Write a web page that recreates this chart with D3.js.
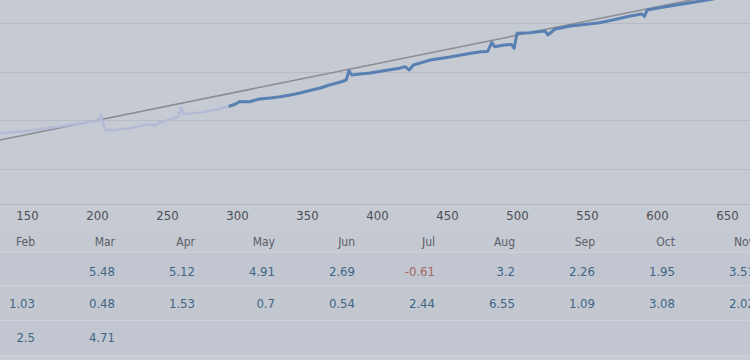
<!DOCTYPE html>
<html><head><meta charset="utf-8">
<script src="https://cdn.jsdelivr.net/npm/d3@7"></script>
<style>
html,body{margin:0;padding:0;background:#c6cad2;}
svg{display:block;}
</style></head>
<body><svg id="c" width="750" height="360"></svg>
<script>
// ---- data ----
const xTicks = [150, 200, 250, 300, 350, 400, 450, 500, 550, 600, 650];
const yGrid = [1000, 2000, 3000, 4000];
const lightT = [120,131,149,166,181,191,202,203,204,206,213,224,238,241,244,252,258,260,262,274,284,294];
const lightV = [1705,1734,1781,1843,1905,1946,1997,2110,1966,1802,1802,1843,1925,1884,1946,2018,2069,2254,2131,2162,2213,2285];
const darkT = [294,299,302,309,316,324,331,338,345,352,359,366,374,378,380,382,388,395,406,416,420,423,426,438,452,466,474,479,482,484,491,496,498,500,509,520,522,527,538,545,559,570,581,589,591,593,605,616,627,638,652,667];
const darkV = [2285,2336,2388,2383,2439,2459,2486,2521,2562,2614,2659,2727,2788,2829,3020,2932,2953,2973,3024,3070,3103,3035,3137,3240,3302,3374,3411,3415,3596,3514,3548,3559,3481,3789,3801,3836,3754,3871,3939,3959,4007,4072,4144,4185,4134,4268,4329,4381,4432,4483,4555,4637];
const trendT = [100, 700];
const trendV = [1417, 4914];
const months = ["Feb","Mar","Apr","May","Jun","Jul","Aug","Sep","Oct","Nov"];
const row1 = [null, 5.48, 5.12, 4.91, 2.69, -0.61, 3.2, 2.26, 1.95, 3.51];
const row2 = [1.03, 0.48, 1.53, 0.7, 0.54, 2.44, 6.55, 1.09, 3.08, 2.02];
const row3 = [2.5, 4.71, null, null, null, null, null, null, null, null];
const rows = [row1, row2, row3];

// ---- layout ----
const W = 750, plotBottom = 204;
const svg = d3.select("#c");
const font = "'DejaVu Sans Condensed','DejaVu Sans',sans-serif";

const x = d3.scaleLinear().domain([150, 650]).range([27, 727]);
const y = d3.scaleLinear().domain([0, 4000]).range([217.7, 23]);

svg.append("rect").attr("width", W).attr("height", 360).attr("fill", "#c6cad2");

// table bands
const bandTop = [252, 285, 320];
const bandH = [33, 35, 35];
svg.append("rect").attr("x",0).attr("y",228).attr("width",W).attr("height",24).attr("fill","#c5c9d1");
rows.forEach((r,i)=>{
  svg.append("rect").attr("x",0).attr("y",bandTop[i]).attr("width",W).attr("height",bandH[i])
    .attr("fill", i%2===0 ? "#c1c6d0" : "#c3c7d0");
});
[252, 285, 320, 355].forEach(yy=>{
  svg.append("line").attr("x1",0).attr("x2",W).attr("y1",yy+0.5).attr("y2",yy+0.5)
    .attr("stroke","#ced1d7").attr("stroke-width",1.2);
});

// gridlines
svg.append("g").selectAll("line").data(yGrid).join("line")
  .attr("x1",0).attr("x2",W)
  .attr("y1",d=>Math.round(y(d))+0.5).attr("y2",d=>Math.round(y(d))+0.5)
  .attr("stroke","#b7bbc3").attr("stroke-width",1);

// axis line
svg.append("line").attr("x1",0).attr("x2",W).attr("y1",plotBottom+0.5).attr("y2",plotBottom+0.5)
  .attr("stroke","#b4b8c0").attr("stroke-width",1);

// x axis tick labels
const xAxis = d3.axisBottom(x).tickValues(xTicks).tickSize(0).tickPadding(0);
const gx = svg.append("g").attr("transform","translate(0,"+ (plotBottom+7) +")").call(xAxis);
gx.select(".domain").remove();
gx.selectAll("text").attr("font-family",font).attr("font-size",13).attr("fill","#4b4e56")
  .attr("dy","0.71em").attr("y",0);

// clip
svg.append("clipPath").attr("id","clip").append("rect").attr("x",0).attr("y",0).attr("width",W).attr("height",plotBottom);
const plot = svg.append("g").attr("clip-path","url(#clip)");

const line = d3.line().x(d=>x(d[0])).y(d=>y(d[1]));
plot.append("path").datum(trendT.map((t,i)=>[t,trendV[i]])).attr("d",line)
  .attr("fill","none").attr("stroke","#8a8c91").attr("stroke-width",1.5);
plot.append("path").datum(lightT.map((t,i)=>[t,lightV[i]])).attr("d",line)
  .attr("fill","none").attr("stroke","#b3bad6").attr("stroke-width",2.5).attr("stroke-linejoin","round");
plot.append("path").datum(darkT.map((t,i)=>[t,darkV[i]])).attr("d",line)
  .attr("fill","none").attr("stroke","#5880b2").attr("stroke-width",3).attr("stroke-linejoin","round");

// table
const col = d3.scalePoint().domain(months).range([35, 755]);
svg.append("g").selectAll("text").data(months).join("text")
  .attr("x",d=>col(d)).attr("y",241.5).attr("dy","0.35em").attr("text-anchor","end")
  .attr("font-family",font).attr("font-size",12).attr("fill","#5a5e67").text(d=>d);

const rowY = [271.5, 303, 337];
rows.forEach((r,i)=>{
  svg.append("g").selectAll("text").data(r.map((v,j)=>({v, m:months[j]})).filter(d=>d.v!==null)).join("text")
    .attr("x",d=>col(d.m)).attr("y",rowY[i]).attr("dy","0.35em").attr("text-anchor","end")
    .attr("font-family",font).attr("font-size",13)
    .attr("fill",d=>d.v<0 ? "#a1665f" : "#3f6686").text(d=>d.v);
});
</script></body></html>
